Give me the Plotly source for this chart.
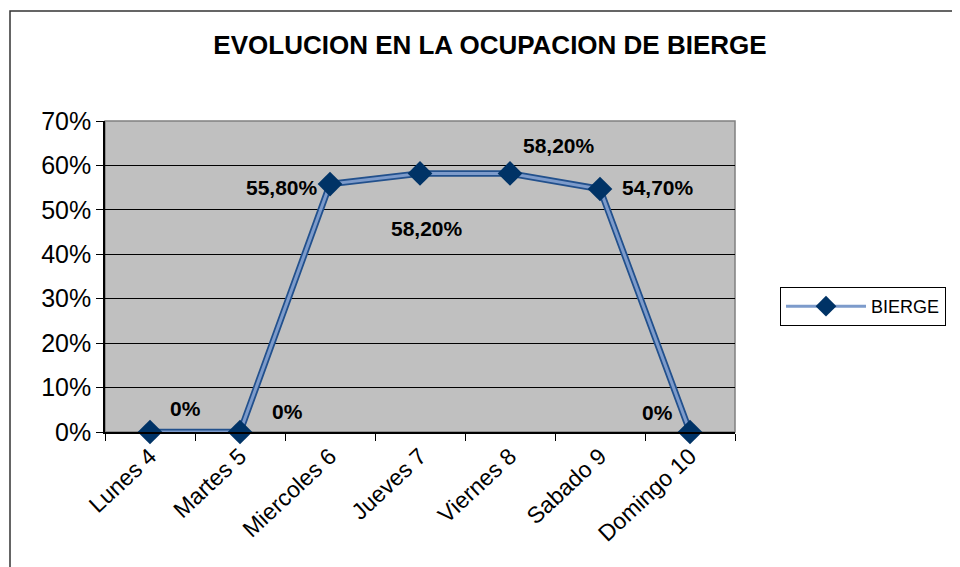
import plotly.graph_objects as go

days = ["Lunes 4", "Martes 5", "Miercoles 6", "Jueves 7", "Viernes 8", "Sabado 9", "Domingo 10"]
ocupacion = [0.0, 0.0, 0.558, 0.582, 0.582, 0.547, 0.0]
label_text = ["0%", "0%", "55,80%", "58,20%", "58,20%", "54,70%", "0%"]
series_name = "BIERGE"
title_text = "EVOLUCION EN LA OCUPACION DE BIERGE"

# label offsets in pixels (style only)
label_dx = [35, 47, -48, 7, 49, 58, -33]
label_dy = [24, 21, -3, -55, 28, 1, 20]

FONT = "Liberation Sans, Arial, sans-serif"
OFF = 8  # browser default body margin
W, H = 960 - OFF, 567 - OFF

fig = go.Figure()
fig.add_trace(go.Scatter(
    x=days, y=ocupacion, mode="lines",
    line=dict(color="#22508C", width=6.5), cliponaxis=False,
    showlegend=False, hoverinfo="skip"))
fig.add_trace(go.Scatter(
    x=days, y=ocupacion, mode="lines+markers", name=series_name,
    line=dict(color="#7D9BCB", width=3), cliponaxis=False,
    marker=dict(symbol="diamond", size=19, color="#003366",
                line=dict(width=0))))

annotations = []
for d, v, t, dx, dy in zip(days, ocupacion, label_text, label_dx, label_dy):
    annotations.append(dict(
        x=d, y=v, xref="x", yref="y", text="<b>" + t + "</b>",
        showarrow=False, xshift=dx, yshift=dy,
        font=dict(family=FONT, size=21, color="black")))

pl, pt = 105 - OFF, 121 - OFF
pw, ph = 630, 311

fig.update_layout(
    width=W, height=H,
    margin=dict(l=pl, r=W - pl - pw, t=pt, b=H - pt - ph),
    paper_bgcolor="white", plot_bgcolor="#C0C0C0",
    font=dict(family=FONT, color="black"),
    title=dict(text="<b>" + title_text + "</b>", x=(490 - OFF) / W, xref="container",
               xanchor="center", y=1 - (45 - OFF) / H, yref="container",
               yanchor="middle", font=dict(family=FONT, size=26, color="black")),
    annotations=annotations,
    legend=dict(x=(780 - 105) / pw, y=1 - (287 - 121) / ph, xanchor="left", yanchor="top",
                bordercolor="black", borderwidth=1, bgcolor="white",
                font=dict(family=FONT, size=18, color="black"),
                itemwidth=80, tracegroupgap=0),
    shapes=[
        dict(type="rect", xref="paper", yref="paper", x0=0, x1=1, y0=0, y1=1,
             line=dict(color="#808080", width=1.5), layer="below"),
        dict(type="rect", xref="paper", yref="paper",
             x0=(10 - 105) / pw, x1=1.6, y0=-1, y1=1 + (121 - 11) / ph,
             line=dict(color="#333333", width=1.5), fillcolor="rgba(0,0,0,0)",
             layer="below"),
    ],
)

fig.update_xaxes(
    type="category", range=[-0.5, 6.5], tickson="boundaries",
    ticks="outside", ticklen=7, tickcolor="black", tickwidth=1,
    showline=True, linecolor="black", linewidth=1.5,
    showgrid=False, tickangle=-43, automargin=False,
    tickfont=dict(family=FONT, size=23, color="black"))
fig.update_yaxes(
    range=[0, 0.7], dtick=0.1, tickformat=".0%",
    ticks="outside", ticklen=7, tickcolor="black", tickwidth=1,
    showline=True, linecolor="black", linewidth=1.5,
    showgrid=True, gridcolor="black", gridwidth=1, zeroline=False, automargin=False,
    tickfont=dict(family=FONT, size=25, color="black"))

fig.write_html("out.html")
